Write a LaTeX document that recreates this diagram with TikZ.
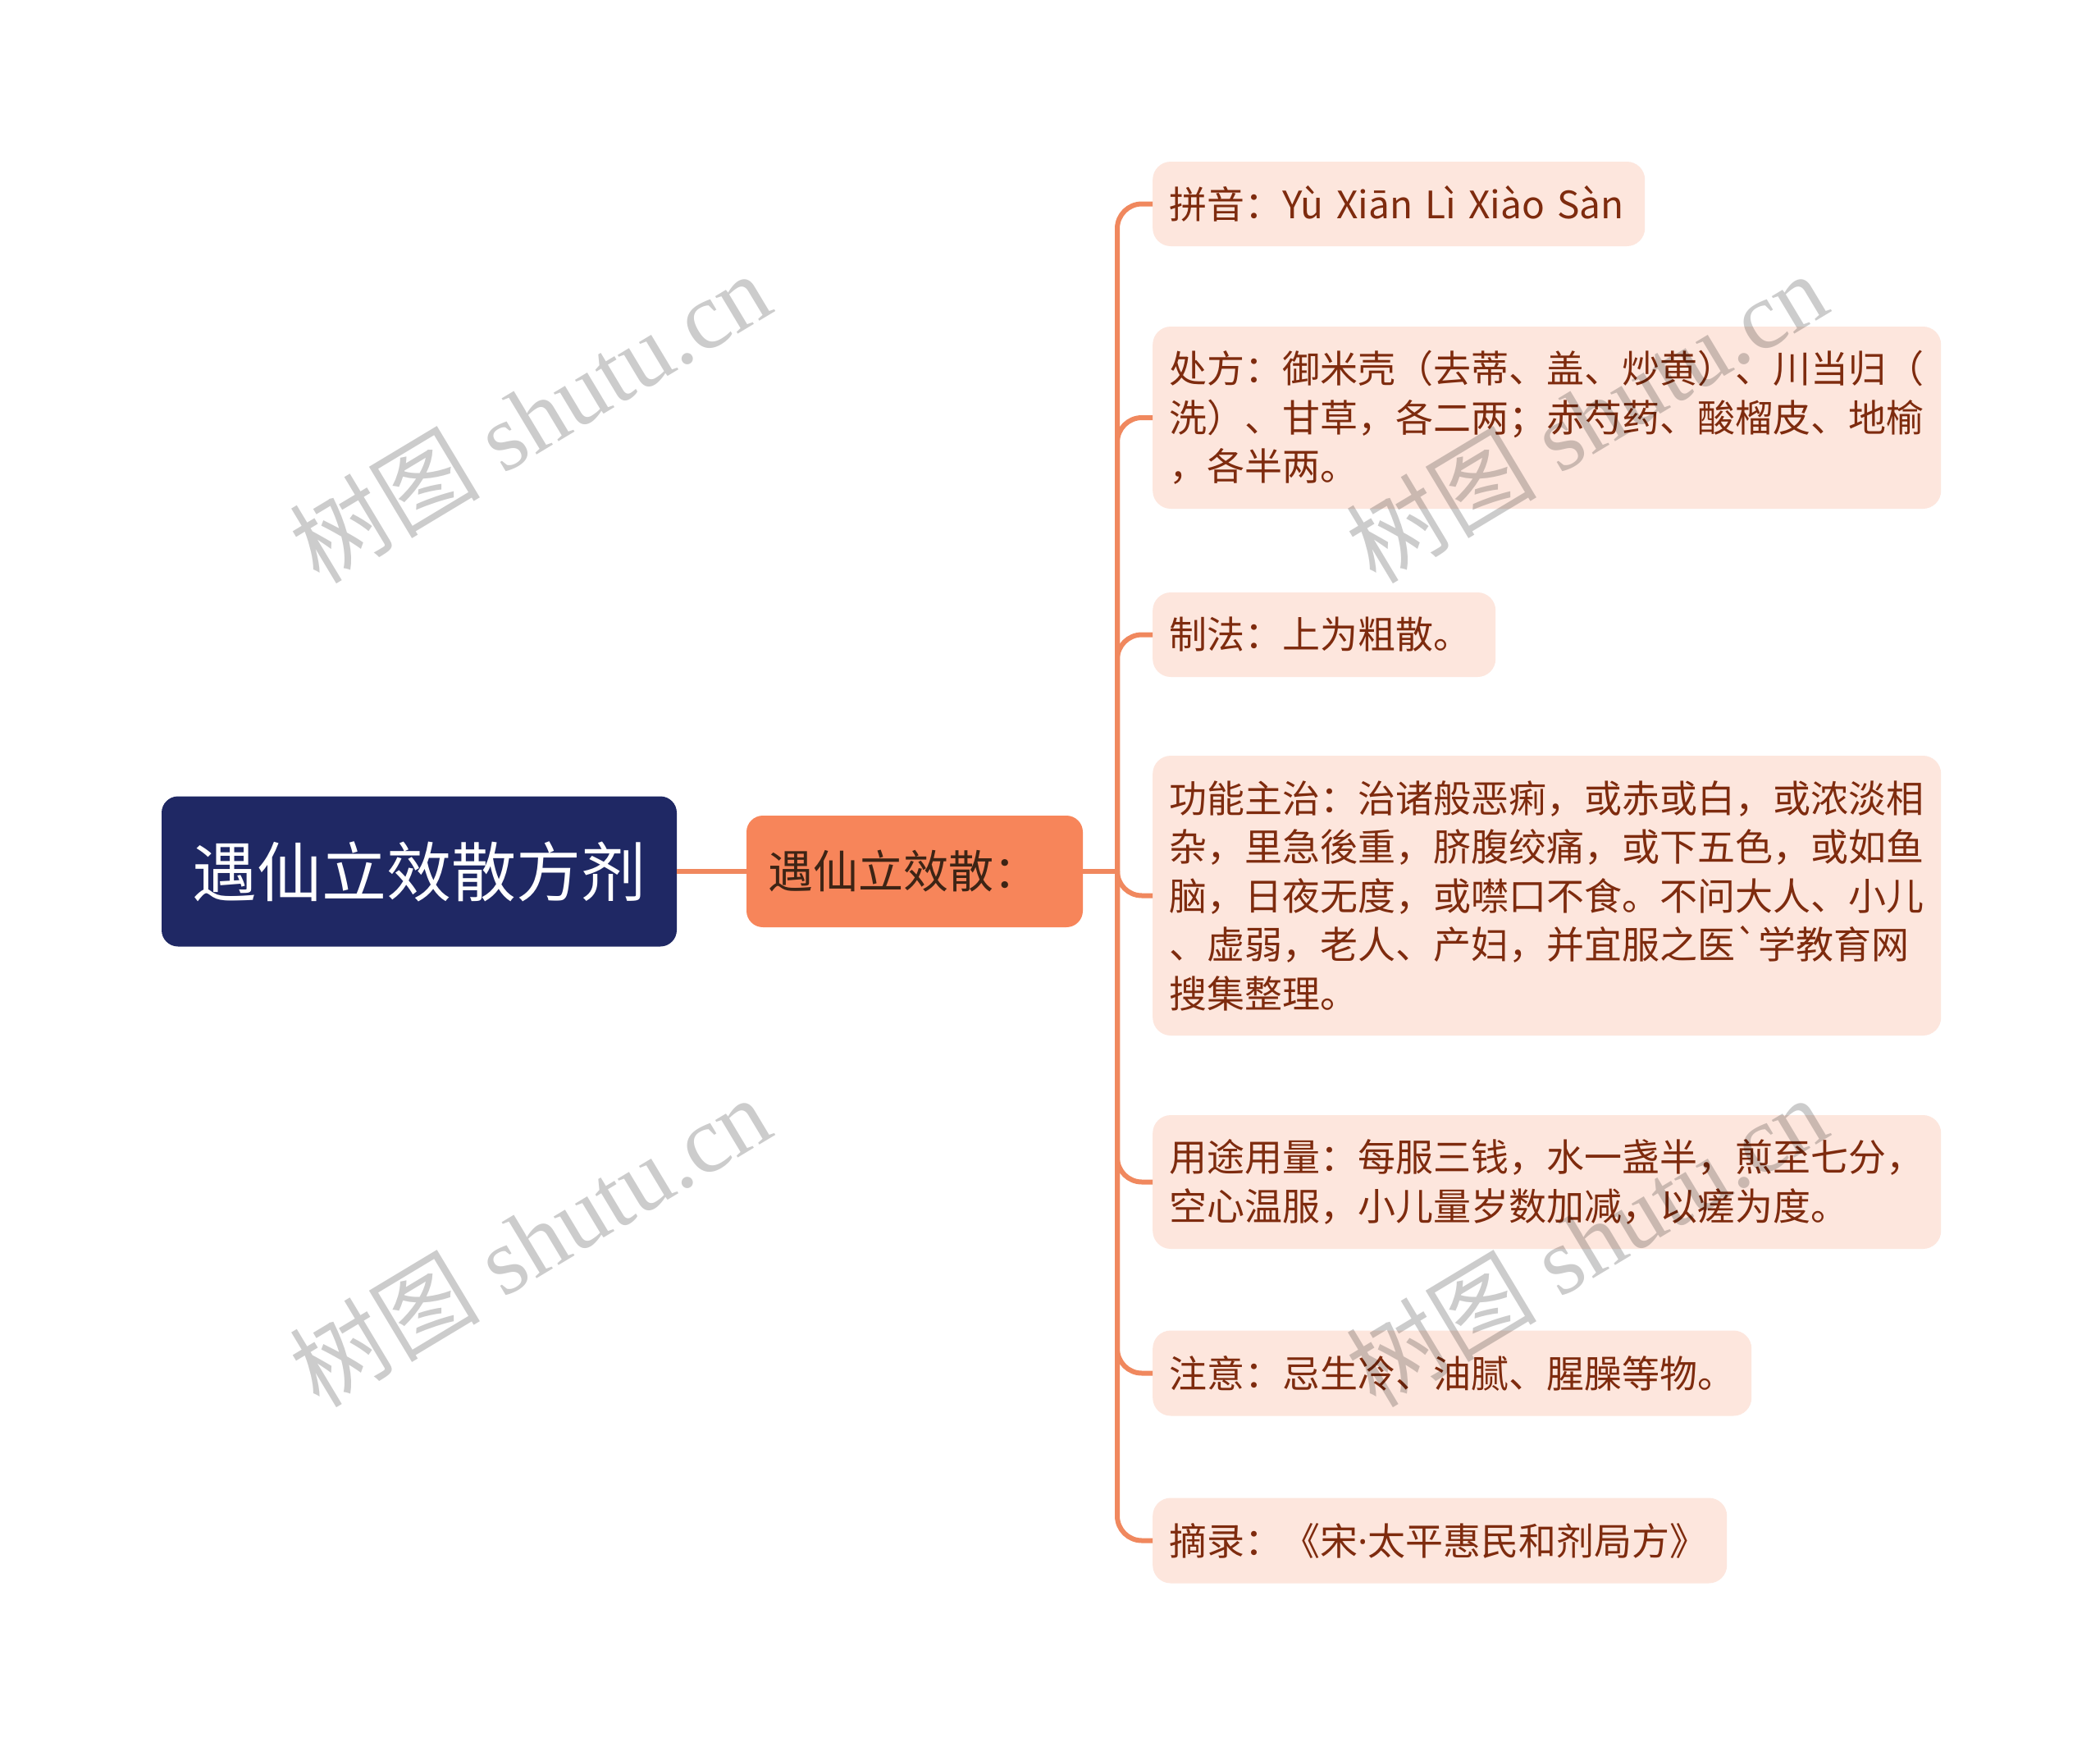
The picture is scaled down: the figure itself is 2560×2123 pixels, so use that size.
\documentclass[tikz,border=0pt]{standalone}
\usepackage{fontspec}
\setmainfont{Noto Sans CJK SC}
\newfontfamily\wmlatin{Liberation Serif}
\newfontfamily\wmcjk{Noto Sans CJK SC}
\newfontfamily\latinsans{Noto Sans}
\newcommand\rawgrave{\XeTeXglyph\XeTeXcharglyph"60\relax}
\definecolor{navy}{HTML}{1F2864}
\definecolor{orangefill}{HTML}{F7855A}
\definecolor{orangetext}{HTML}{3D2415}
\definecolor{childfill}{HTML}{FDE6DD}
\definecolor{childtext}{HTML}{7E2B0E}
\definecolor{conncol}{HTML}{F0885E}
\tikzset{
  rootbox/.style={fill=navy, text=white, rounded corners=20pt, inner sep=0pt,
    font=\fontsize{79}{92}\selectfont, align=center},
  midbox/.style={fill=orangefill, text=orangetext, rounded corners=20pt,
    inner xsep=26pt, inner ysep=0pt, align=left,
    font=\fontsize{55}{66}\selectfont},
  childbox/.style={fill=childfill, text=childtext, rounded corners=22pt,
    inner xsep=20pt, inner ysep=0pt, anchor=west, align=left,
    font=\fontsize{46}{59.5}\selectfont},
  conn/.style={draw=conncol, line width=6pt},
  wmark/.style={text=black, opacity=0.2, rotate=31, inner sep=0pt,
    font=\fontsize{116}{124}\selectfont}
}
\begin{document}
\begin{tikzpicture}[x=1pt,y=-1pt]
\useasboundingbox (0,0) rectangle (2560,2123);
\fill[white] (0,0) rectangle (2560,2123);

\node[rootbox, minimum width=628pt, minimum height=183pt] (root) at (511,1062) {遇仙立效散方剂};
\node[midbox, minimum width=410pt, minimum height=136pt, text width=358pt] (mid) at (1115,1062) {遇仙立效散：};
\coordinate (j) at (1362,1062);

\node[childbox, minimum height=103pt, text width=560pt] (c1) at (1405,248.5)
  {拼音：Yù Xiān Lì Xiào Sàn};
\node[childbox, minimum height=222pt, text width=921pt] (c2) at (1405,509)
  {处方：御米壳（去蒂、盖、炒黄）、川当归（\\洗）、甘草，各二两；赤芍药、酸榴皮、地榆\\，各半两。};
\node[childbox, minimum height=103pt, text width=378pt] (c3) at (1405,773.5)
  {制法：上为粗散。};
\node[childbox, minimum height=341pt, text width=921pt] (c4) at (1405,1091.5)
  {功能主治：治诸般恶痢，或赤或白，或浓淡相\\杂，里急後重，脐腹绞痛，或下五色，或如鱼\\脑，日夜无度，或噤口不食。不问大人、小儿\\、虚弱，老人、产妇，并宜服之医\rawgrave 学教育网\\搜集整理。};
\node[childbox, minimum height=163pt, text width=921pt] (c5) at (1405,1440.5)
  {用途用量：每服三钱，水一盏半，煎至七分，\\空心温服，小儿量岁数加减，以瘥为度。};
\node[childbox, minimum height=104pt, text width=690pt] (c6) at (1405,1673.5)
  {注意：忌生冷、油腻、腥臊等物。};
\node[childbox, minimum height=104pt, text width=660pt] (c7) at (1405,1877.5)
  {摘录：《宋{\latinsans ·}太平惠民和剂局方》};

\draw[conn] (root.east) -- (mid.west);
\draw[conn] (mid.east) -- (j);
\foreach \c in {c1,c2,c3,c4,c5,c6,c7}
  \draw[conn, rounded corners=30pt] (j) |- (\c.west);

\node[wmark] (w1) at (646,508) {\wmcjk 树图\wmlatin{} shutu.cn};
\node[wmark] (w2) at (646,1512) {\wmcjk 树图\wmlatin{} shutu.cn};
\node[wmark] (w3) at (1934,508) {\wmcjk 树图\wmlatin{} shutu.cn};
\node[wmark] (w4) at (1934,1512) {\wmcjk 树图\wmlatin{} shutu.cn};
\end{tikzpicture}
\end{document}
